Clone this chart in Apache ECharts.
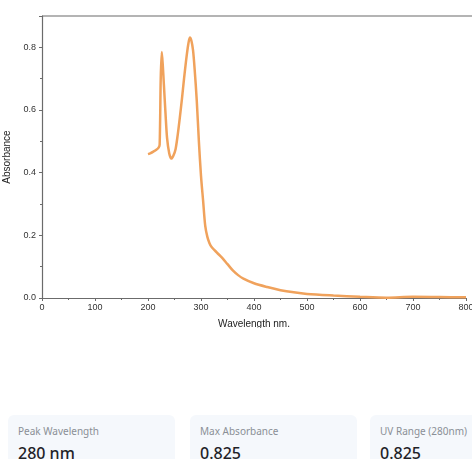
<!DOCTYPE html>
<html>
<head>
<meta charset="utf-8">
<script src="https://cdn.jsdelivr.net/npm/echarts@6/dist/echarts.min.js"></script>
<style>
  html, body { margin: 0; padding: 0; background: #ffffff; width: 472px; height: 459px; overflow: hidden; }
  #chart { position: absolute; left: 0; top: 0; width: 472px; height: 328px; }
  .card { position: absolute; top: 415px; width: 167px; height: 70px; background: #f5f8fc; border-radius: 6px; font-family: "Noto Sans", "Open Sans", sans-serif; }
  .card .lbl { position: absolute; left: 10px; top: 9px; font-size: 10px; color: #8a8f96; }
  .card .val { position: absolute; left: 10px; top: 27px; font-size: 16px; color: #1f2328; font-weight: 500; }
</style>
</head>
<body>
<div id="chart"></div>
<div class="card" style="left:8px"><div class="lbl" id="l0"></div><div class="val" id="v0"></div></div>
<div class="card" style="left:190px"><div class="lbl" id="l1"></div><div class="val" id="v1"></div></div>
<div class="card" style="left:370px"><div class="lbl" id="l2"></div><div class="val" id="v2"></div></div>
<script>
const wavelengths = [200,205,210,215,220,222,224,226,228,230,233,236,240,244,248,252,256,260,264,268,272,276,279,282,285,288,292,296,300,304,308,312,316,320,330,340,350,360,370,380,400,425,450,475,500,550,600,650,700,750,800];
const absorbance = [0.459,0.462,0.467,0.472,0.480,0.490,0.700,0.785,0.740,0.680,0.590,0.510,0.462,0.445,0.455,0.475,0.520,0.575,0.635,0.700,0.760,0.810,0.831,0.820,0.790,0.730,0.630,0.500,0.390,0.310,0.230,0.195,0.175,0.163,0.145,0.128,0.108,0.088,0.073,0.062,0.047,0.035,0.025,0.018,0.013,0.008,0.004,0.001,0.004,0.003,0.002];
const cardLabels = ["Peak Wavelength", "Max Absorbance", "UV Range (280nm)"];
const cardValues = ["280 nm", "0.825", "0.825"];

cardLabels.forEach((t, i) => { document.getElementById('l' + i).textContent = t; });
cardValues.forEach((t, i) => { document.getElementById('v' + i).textContent = t; });

const chart = echarts.init(document.getElementById('chart'), null, { renderer: 'canvas' });
const axisColor = '#6b6b6b';
const labelFont = { color: '#333', fontSize: 9, fontFamily: 'Liberation Sans, Arial, sans-serif' };
chart.setOption({
  animation: false,
  grid: { left: 42, right: 6, top: 16, bottom: 30, containLabel: false, outerBoundsMode: 'none' },
  xAxis: {
    type: 'value', min: 0, max: 800, interval: 100,
    name: 'Wavelength nm.', nameLocation: 'middle', nameGap: 21,
    nameTextStyle: { color: '#222', fontSize: 10, fontFamily: 'Liberation Sans, Arial, sans-serif' },
    axisLine: { show: true, lineStyle: { color: axisColor, width: 1.2 } },
    axisTick: { show: true, length: 3, lineStyle: { color: axisColor } },
    minorTick: { show: true, splitNumber: 2, length: 2, lineStyle: { color: axisColor } },
    axisLabel: Object.assign({ margin: 5 }, labelFont),
    splitLine: { show: false }
  },
  yAxis: {
    type: 'value', min: 0, max: 0.9, interval: 0.2,
    name: 'Absorbance', nameLocation: 'middle', nameGap: 26,
    nameTextStyle: { color: '#222', fontSize: 10, fontFamily: 'Liberation Sans, Arial, sans-serif' },
    axisLine: { show: true, lineStyle: { color: axisColor, width: 1.2 } },
    axisTick: { show: true, length: 3, lineStyle: { color: axisColor } },
    minorTick: { show: true, splitNumber: 2, length: 2, lineStyle: { color: axisColor } },
    axisLabel: Object.assign({ margin: 6, showMaxLabel: false, formatter: v => (Math.abs(v - 0.9) < 1e-6 ? '' : v.toFixed(1)) }, labelFont),
    splitLine: { show: false }
  },
  graphic: [{
    type: 'line', shape: { x1: 42, y1: 16, x2: 472, y2: 16 },
    style: { stroke: axisColor, lineWidth: 1.2 }, silent: true
  }],
  series: [{
    type: 'line',
    data: wavelengths.map((w, i) => [w, absorbance[i]]),
    showSymbol: false,
    smooth: 0.3,
    lineStyle: { color: '#f0a25c', width: 2.5 },
    itemStyle: { color: '#f0a25c' }
  }]
});
</script>
</body>
</html>
